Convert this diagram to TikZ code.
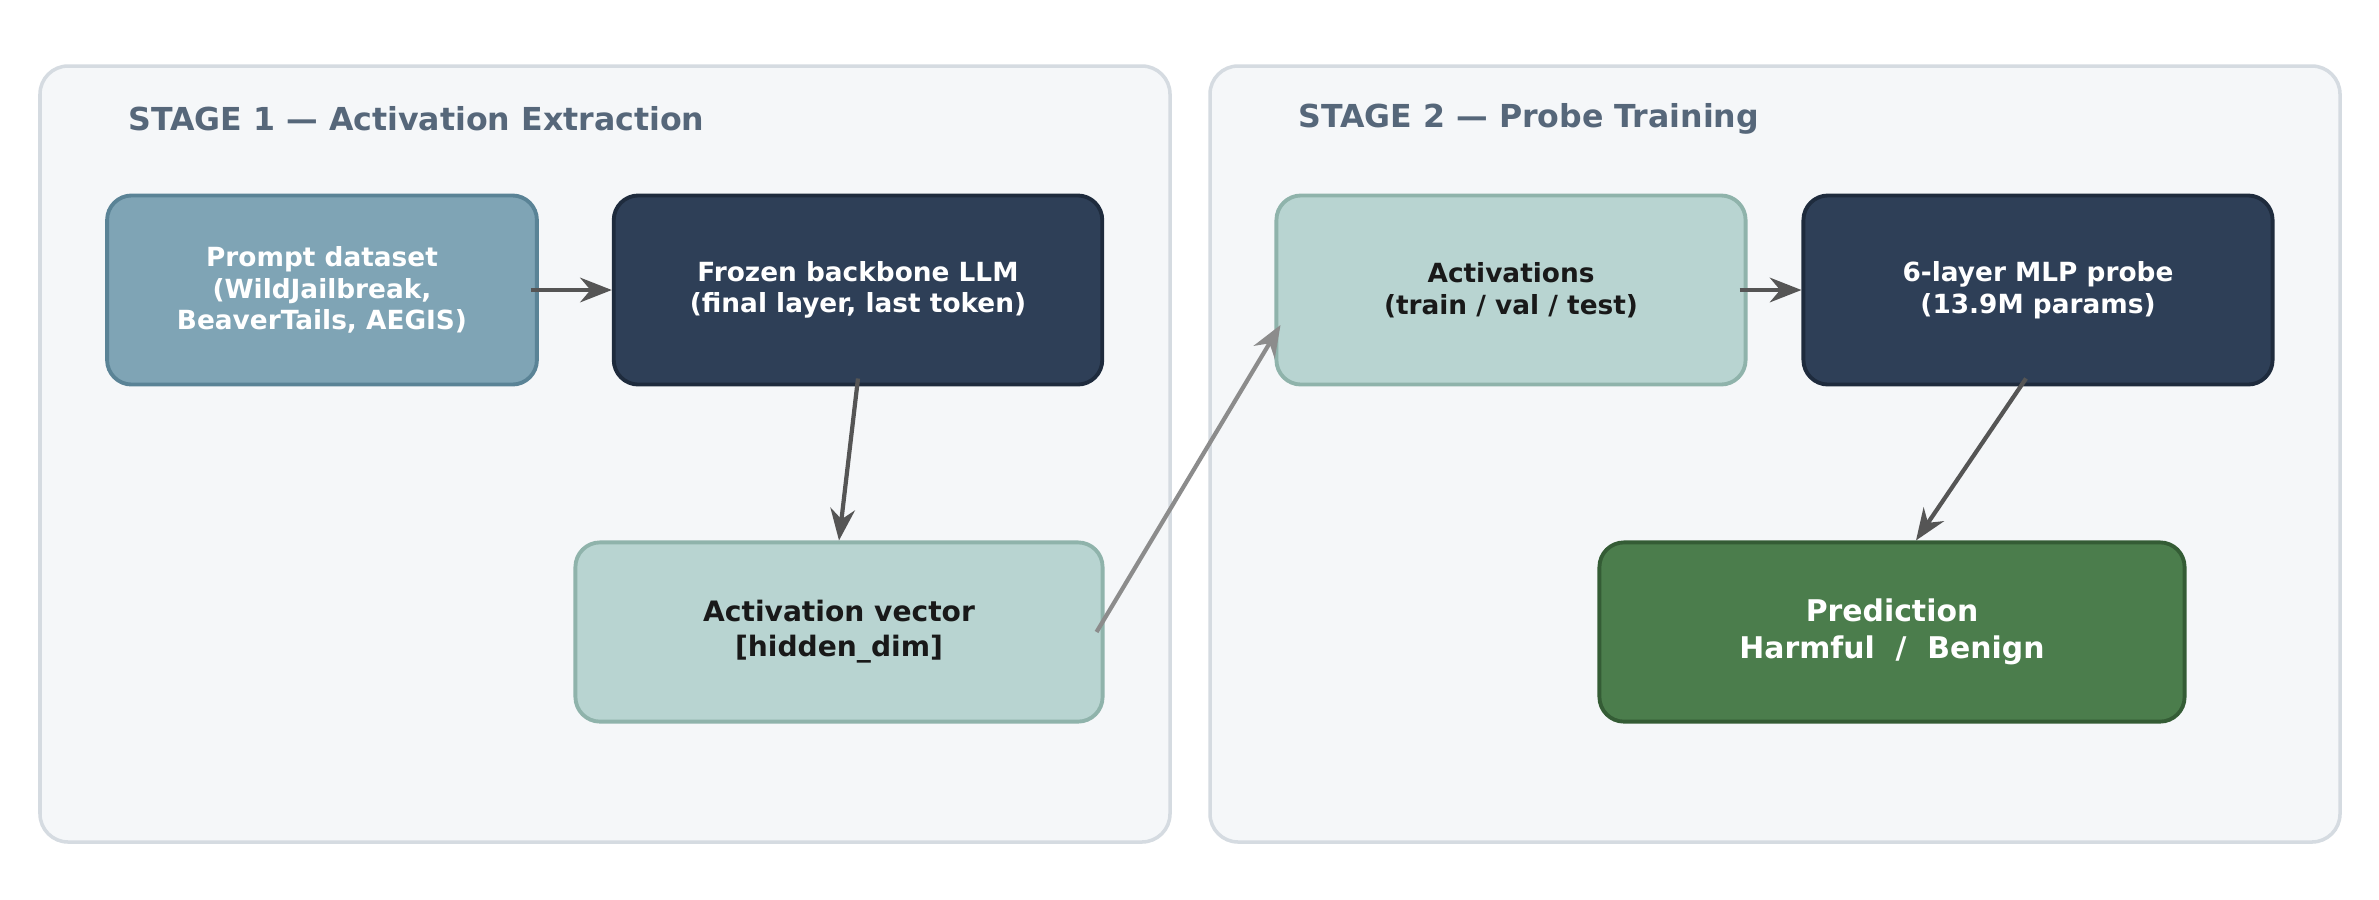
\documentclass[tikz,border=0pt]{standalone}
\usepackage{fontspec}
\setmainfont{DejaVu Sans}
\usetikzlibrary{calc,arrows.meta}
\definecolor{stagefill}{HTML}{F5F7F9}
\definecolor{stagedraw}{HTML}{D5DBE1}
\definecolor{titlec}{HTML}{56677A}
\definecolor{bluef}{HTML}{7FA4B5}\definecolor{blued}{HTML}{5A8396}
\definecolor{navyf}{HTML}{2E3F57}\definecolor{navyd}{HTML}{1E2B3D}
\definecolor{tealf}{HTML}{B8D4D1}\definecolor{teald}{HTML}{8FB3AB}
\definecolor{greenf}{HTML}{4B7D4C}\definecolor{greend}{HTML}{345C35}
\definecolor{arrc}{HTML}{555555}\definecolor{arrg}{HTML}{8C8C8C}
\begin{document}
\begin{tikzpicture}[x=0.1mm,y=-0.1mm,
 stagebox/.style={draw=stagedraw,fill=stagefill,line width=1pt,rounded corners=8pt},
 procbox/.style={rectangle,rounded corners=7pt,line width=1.1pt,align=center,font=\bfseries\fontsize{7.5}{9}\selectfont,inner sep=0pt},
 arr/.style={-{Stealth[length=9pt,width=7pt]},line width=1.2pt,draw=arrc}]
\useasboundingbox (0,0) rectangle (2379,899);
\fill[white] (0,0) rectangle (2379,899);
\draw[stagebox] (40,66) rectangle (1170,842);
\draw[stagebox] (1210,66) rectangle (2340,842);
\node[anchor=west,text=titlec,font=\bfseries\fontsize{9}{11}\selectfont] (t1) at (116,119) {STAGE 1 — Activation Extraction};
\node[anchor=west,text=titlec,font=\bfseries\fontsize{9}{11}\selectfont] (t2) at (1286,119) {STAGE 2 — Probe Training};
\node[procbox,fill=bluef,draw=blued,text=white,minimum width=432\pgflinewidth*0+122.3pt,minimum height=53.8pt] (prompt) at (322,290) {Prompt dataset\\(WildJailbreak,\\BeaverTails, AEGIS)};
\node[procbox,fill=navyf,draw=navyd,text=white,minimum width=139pt,minimum height=53.8pt] (frozen) at (858,290) {Frozen backbone LLM\\(final layer, last token)};
\node[procbox,fill=tealf,draw=teald,text=black!90,minimum width=150pt,minimum height=51pt,font=\bfseries\fontsize{8}{10}\selectfont] (actvec) at (839,632) {Activation vector\\{}[hidden\_dim]};
\node[procbox,fill=tealf,draw=teald,text=black!90,minimum width=133.5pt,minimum height=53.8pt] (acts) at (1511,290) {Activations\\(train / val / test)};
\node[procbox,fill=navyf,draw=navyd,text=white,minimum width=133.5pt,minimum height=53.8pt] (mlp) at (2038,290) {6-layer MLP probe\\(13.9M params)};
\node[procbox,fill=greenf,draw=greend,text=white,minimum width=166.5pt,minimum height=51pt,font=\bfseries\fontsize{8.5}{10.5}\selectfont] (pred) at (1892,632) {Prediction\\Harmful~~/~~Benign};
\draw[arr] ($(prompt.east)+(-8,0)$) -- (frozen.west);
\draw[arr] ($(frozen.south)+(0,-8)$) -- (actvec.north);
\draw[arr,draw=arrg] ($(actvec.east)+(-8,0)$) -- ($(acts.west)+(6,35)$);
\draw[arr] ($(acts.east)+(-8,0)$) -- (mlp.west);
\draw[arr] ($(mlp.south)+(-12,-8)$) -- ($(pred.north)+(24,0)$);
\end{tikzpicture}
\end{document}
